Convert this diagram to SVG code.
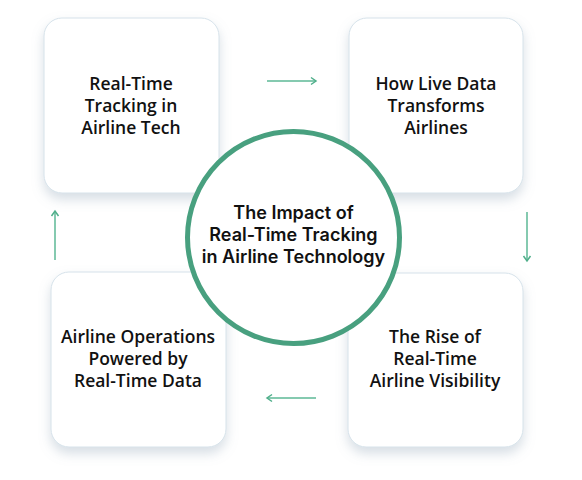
<svg xmlns="http://www.w3.org/2000/svg" width="582" height="480" viewBox="0 0 582 480">
<defs>
<filter id="sh" x="-20%" y="-20%" width="140%" height="150%">
<feDropShadow dx="0" dy="6" stdDeviation="6" flood-color="#8aa0b4" flood-opacity="0.35"/>
</filter>
<marker id="ah" markerWidth="10" markerHeight="10" refX="7" refY="5" orient="auto" markerUnits="userSpaceOnUse">
<path d="M2,1.5 L7,5 L2,8.5" fill="none" stroke="#4fae8a" stroke-width="1.5"/>
</marker>
</defs>
<style>
.box{fill:#ffffff;stroke:#d6e2ea;stroke-width:1;filter:url(#sh)}
.bt{font-family:"Open Sans","Liberation Sans",sans-serif;font-size:17.5px;font-weight:600;fill:#111;text-anchor:middle}
.ct{font-family:Inter,"Liberation Sans",sans-serif;font-size:18px;font-weight:600;fill:#111;text-anchor:middle}
.ar{stroke:#5cb896;stroke-width:1.5;fill:none;marker-end:url(#ah)}
</style>
<rect width="582" height="480" fill="#ffffff"/>
<g id="node-tl"><rect class="box" x="44" y="18" width="175" height="175" rx="18"/>
<text class="bt" x="131" y="90">Real-Time</text><text class="bt" x="131" y="112">Tracking in</text><text class="bt" x="131" y="134">Airline Tech</text></g>
<g id="node-tr"><rect class="box" x="349" y="18" width="174" height="175" rx="18"/>
<text class="bt" x="436" y="90">How Live Data</text><text class="bt" x="436" y="112">Transforms</text><text class="bt" x="436" y="134">Airlines</text></g>
<g id="node-bl"><rect class="box" x="51" y="272" width="175" height="175" rx="18"/>
<text class="bt" x="138" y="343">Airline Operations</text><text class="bt" x="138" y="365">Powered by</text><text class="bt" x="138" y="387">Real-Time Data</text></g>
<g id="node-br"><rect class="box" x="348" y="273" width="175" height="174" rx="18"/>
<text class="bt" x="435" y="343">The Rise of</text><text class="bt" x="435" y="365">Real-Time</text><text class="bt" x="435" y="387">Airline Visibility</text></g>
<g id="connectors">
<line class="ar" x1="267" y1="81" x2="316" y2="81"/>
<line class="ar" x1="527" y1="212" x2="527" y2="261"/>
<line class="ar" x1="316" y1="398" x2="267" y2="398"/>
<line class="ar" x1="55" y1="260" x2="55" y2="211"/>
</g>
<g id="center"><circle cx="293.5" cy="237.5" r="106" fill="#ffffff" stroke="#48a07f" stroke-width="5"/>
<text class="ct" x="293.5" y="219">The Impact of</text><text class="ct" x="293.5" y="241">Real-Time Tracking</text><text class="ct" x="293.5" y="263">in Airline Technology</text></g>
</svg>
